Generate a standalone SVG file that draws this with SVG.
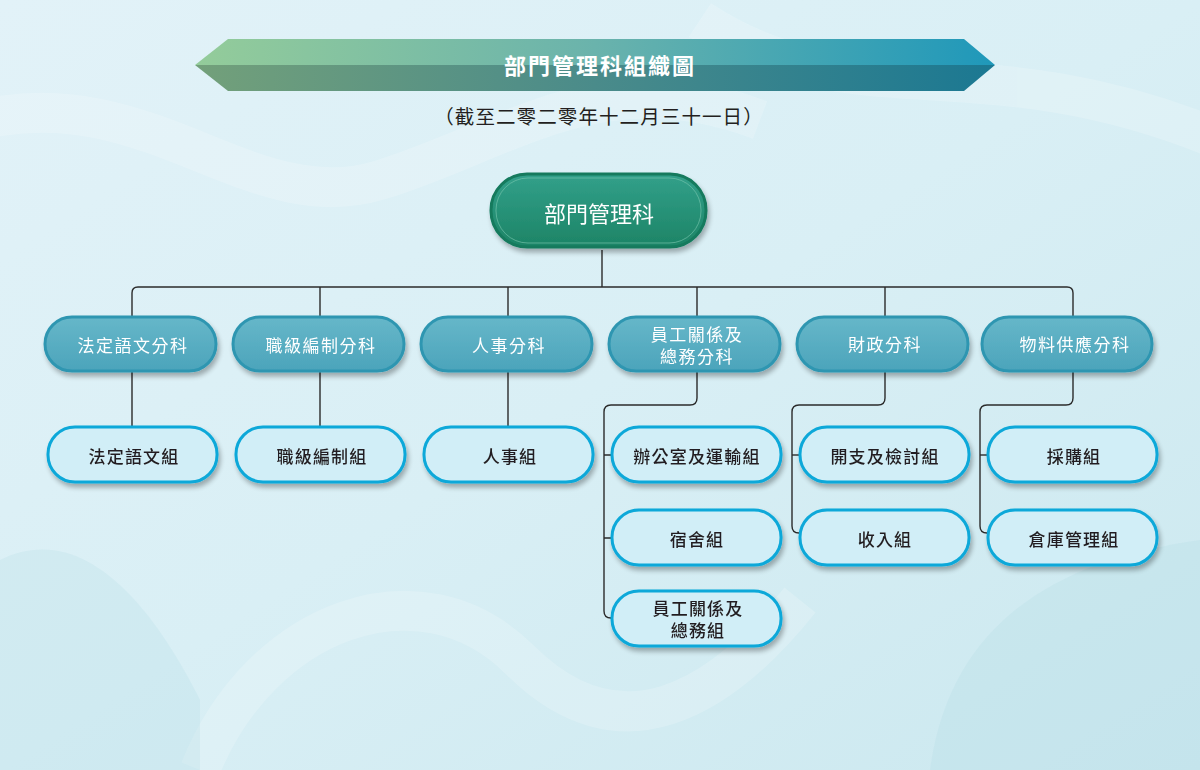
<svg xmlns="http://www.w3.org/2000/svg" width="1200" height="770" viewBox="0 0 1200 770">
<defs>
<linearGradient id="bg" x1="0" y1="0" x2="1" y2="1">
<stop offset="0" stop-color="#e2f2f8"/>
<stop offset="0.5" stop-color="#d9eff5"/>
<stop offset="1" stop-color="#cbe8ef"/>
</linearGradient>
<linearGradient id="banTop" x1="0" y1="0" x2="1" y2="0">
<stop offset="0" stop-color="#94cc9a"/>
<stop offset="0.5" stop-color="#6ab3ac"/>
<stop offset="1" stop-color="#1f98ba"/>
</linearGradient>
<linearGradient id="banBot" x1="0" y1="0" x2="1" y2="0">
<stop offset="0" stop-color="#73a07a"/>
<stop offset="0.5" stop-color="#4a8b8a"/>
<stop offset="1" stop-color="#1b7892"/>
</linearGradient>
<linearGradient id="green" x1="0" y1="0" x2="0" y2="1">
<stop offset="0" stop-color="#32a08a"/>
<stop offset="1" stop-color="#1d8466"/>
</linearGradient>
<linearGradient id="teal" x1="0" y1="0" x2="0" y2="1">
<stop offset="0" stop-color="#66b7c9"/>
<stop offset="1" stop-color="#4ba4bb"/>
</linearGradient>
<filter id="sh" x="-10%" y="-20%" width="125%" height="150%">
<feGaussianBlur in="SourceAlpha" stdDeviation="2.5"/>
<feOffset dx="2" dy="4" result="b"/>
<feComponentTransfer><feFuncA type="linear" slope="0.3"/></feComponentTransfer>
<feMerge><feMergeNode/><feMergeNode in="SourceGraphic"/></feMerge>
</filter>
</defs>
<style>
.t{font-family:"Noto Sans CJK TC","Noto Sans CJK SC",sans-serif;text-anchor:middle;dominant-baseline:central}
.w{fill:#ffffff;font-size:17px;letter-spacing:1.5px}
.d{fill:#231f20;font-size:17px;font-weight:500;letter-spacing:1.2px}
.sec rect{fill:url(#teal);stroke:#2f96b1;stroke-width:3}
.unit rect{fill:#d1eef7;stroke:#0aa8d9;stroke-width:3}
.conn path{fill:none;stroke:#2b2b2b;stroke-width:1.4}
</style>
<rect width="1200" height="770" fill="url(#bg)"/>
<g opacity="0.18" fill="none" stroke="#ffffff" stroke-width="40">
<path d="M-20,120 C150,80 250,220 380,180 S600,60 760,120"/>
<path d="M700,20 C850,120 980,40 1220,140"/>
<path d="M200,770 C260,620 420,560 520,660 S720,700 800,600"/>
</g>
<g opacity="0.2" fill="#a9d8e2">
<path d="M930,770 C950,620 1060,560 1200,540 L1200,770 Z"/>
<path d="M0,560 C80,520 150,600 200,700 L200,770 L0,770 Z"/>
</g>
<g id="banner">
<polygon points="195,65 228,39 964,39 995,65" fill="url(#banTop)"/>
<polygon points="195,65 995,65 964,91 228,91" fill="url(#banBot)"/>
<text class="t" x="600" y="64" fill="#ffffff" font-size="22" font-weight="700" letter-spacing="2">部門管理科組織圖</text>
</g>
<text class="t" x="599" y="115" fill="#231f20" font-size="19.5" letter-spacing="1.1">（截至二零二零年十二月三十一日）</text>
<g class="conn" id="connectors">
<path d="M602,250 V287"/>
<path d="M132,318 V293 Q132,287 138,287 H1067 Q1073,287 1073,293 V318"/>
<path d="M320,287 V318 M508,287 V318 M697,287 V318 M885,287 V318"/>
<path d="M132,372 V427 M320,372 V427 M508,372 V427"/>
<path d="M697,372 V398 Q697,405 690,405 H611 Q604,405 604,412 V611 Q604,618 611,618"/>
<path d="M604,455 H612 M604,538 H612"/>
<path d="M885,372 V398 Q885,405 878,405 H799 Q792,405 792,412 V526 Q792,533 799,533"/>
<path d="M792,455 H800"/>
<path d="M1073,372 V398 Q1073,405 1066,405 H987 Q980,405 980,412 V526 Q980,533 987,533"/>
<path d="M980,455 H988"/>
</g>
<g id="n-root" filter="url(#sh)">
<rect x="491" y="174" width="215" height="73" rx="36" fill="url(#green)" stroke="#137a5d" stroke-width="3"/>
<rect x="496" y="178" width="205" height="65" rx="32" fill="none" stroke="#7cc8b0" stroke-width="1" opacity="0.6"/>
<text class="t" x="599" y="212" fill="#ffffff" font-size="22">部門管理科</text>
</g>
<g id="n-s1" class="sec" filter="url(#sh)"><rect x="45" y="317" width="171" height="54" rx="27"/><text class="t w" x="133" y="344">法定語文分科</text></g>
<g id="n-s2" class="sec" filter="url(#sh)"><rect x="233" y="317" width="171" height="54" rx="27"/><text class="t w" x="321" y="344">職級編制分科</text></g>
<g id="n-s3" class="sec" filter="url(#sh)"><rect x="421" y="317" width="171" height="54" rx="27"/><text class="t w" x="509" y="344">人事分科</text></g>
<g id="n-s4" class="sec" filter="url(#sh)"><rect x="609" y="317" width="171" height="54" rx="27"/><text class="t w"><tspan x="697" y="333">員工關係及</tspan><tspan x="697" y="355">總務分科</tspan></text></g>
<g id="n-s5" class="sec" filter="url(#sh)"><rect x="797" y="317" width="171" height="54" rx="27"/><text class="t w" x="885" y="343">財政分科</text></g>
<g id="n-s6" class="sec" filter="url(#sh)"><rect x="982" y="317" width="170" height="54" rx="27"/><text class="t w" x="1075" y="343">物料供應分科</text></g>
<g id="n-u1" class="unit" filter="url(#sh)"><rect x="48" y="427" width="169" height="55" rx="27"/><text class="t d" x="134" y="455">法定語文組</text></g>
<g id="n-u2" class="unit" filter="url(#sh)"><rect x="236" y="427" width="169" height="55" rx="27"/><text class="t d" x="322" y="455">職級編制組</text></g>
<g id="n-u3" class="unit" filter="url(#sh)"><rect x="424" y="427" width="169" height="55" rx="27"/><text class="t d" x="510" y="455">人事組</text></g>
<g id="n-u4" class="unit" filter="url(#sh)"><rect x="612" y="427" width="169" height="55" rx="27"/><text class="t d" x="697" y="455">辦公室及運輸組</text></g>
<g id="n-u5" class="unit" filter="url(#sh)"><rect x="612" y="510" width="169" height="55" rx="27"/><text class="t d" x="697" y="538">宿舍組</text></g>
<g id="n-u6" class="unit" filter="url(#sh)"><rect x="612" y="591" width="169" height="55" rx="27"/><text class="t d"><tspan x="698" y="607">員工關係及</tspan><tspan x="698" y="629">總務組</tspan></text></g>
<g id="n-u7" class="unit" filter="url(#sh)"><rect x="800" y="427" width="169" height="55" rx="27"/><text class="t d" x="885" y="455">開支及檢討組</text></g>
<g id="n-u8" class="unit" filter="url(#sh)"><rect x="800" y="510" width="169" height="55" rx="27"/><text class="t d" x="885" y="538">收入組</text></g>
<g id="n-u9" class="unit" filter="url(#sh)"><rect x="988" y="427" width="169" height="55" rx="27"/><text class="t d" x="1074" y="455">採購組</text></g>
<g id="n-u10" class="unit" filter="url(#sh)"><rect x="988" y="510" width="169" height="55" rx="27"/><text class="t d" x="1074" y="538">倉庫管理組</text></g>
</svg>
